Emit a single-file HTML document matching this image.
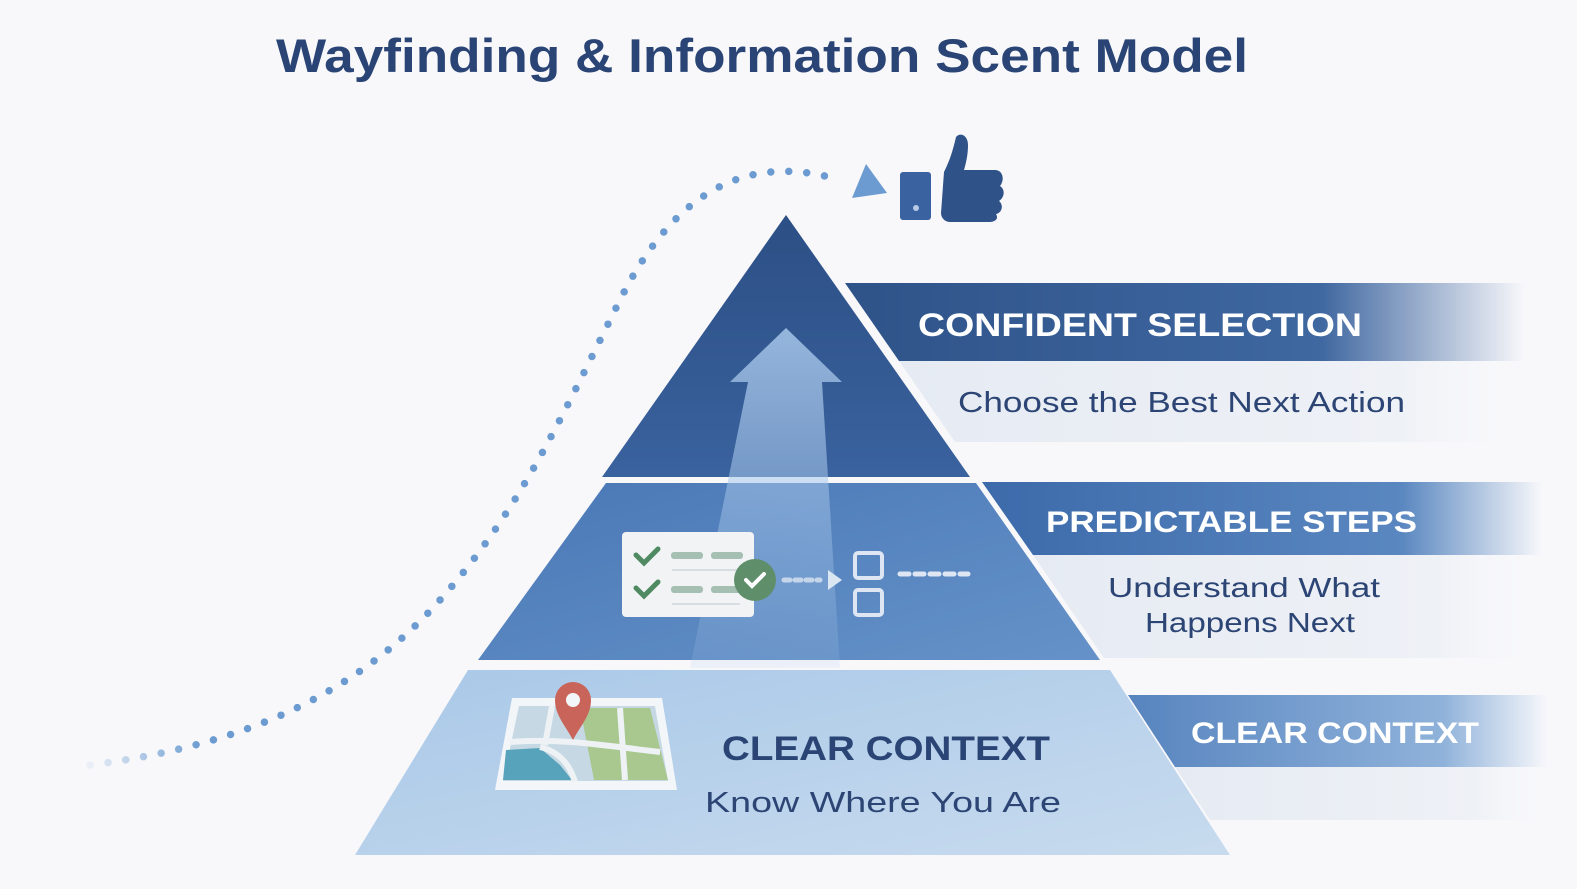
<!DOCTYPE html>
<html><head><meta charset="utf-8"><style>
html,body{margin:0;padding:0;background:#f8f8fb;}
svg{display:block}
</style></head><body>
<svg width="1577" height="889" viewBox="0 0 1577 889" xmlns="http://www.w3.org/2000/svg" font-family="'Liberation Sans', sans-serif">
<defs>
<linearGradient id="b1" x1="0" x2="1"><stop offset="0" stop-color="#2e5389"/><stop offset="0.7" stop-color="#3f67a0"/><stop offset="1" stop-color="#3f67a0" stop-opacity="0"/></linearGradient>
<linearGradient id="b2" x1="0" x2="1"><stop offset="0" stop-color="#3c6aaa"/><stop offset="0.75" stop-color="#5a87c0"/><stop offset="1" stop-color="#5a87c0" stop-opacity="0"/></linearGradient>
<linearGradient id="b3" x1="0" x2="1"><stop offset="0" stop-color="#5784bf"/><stop offset="0.75" stop-color="#8fb2da"/><stop offset="1" stop-color="#8fb2da" stop-opacity="0"/></linearGradient>
<linearGradient id="l1" x1="0" x2="1"><stop offset="0" stop-color="#e6ebf3"/><stop offset="0.8" stop-color="#eef1f6"/><stop offset="1" stop-color="#f8f8fb" stop-opacity="0"/></linearGradient>
<linearGradient id="t1" x1="0" y1="0" x2="0" y2="1"><stop offset="0" stop-color="#2c4f85"/><stop offset="1" stop-color="#3a629e"/></linearGradient>
<linearGradient id="t2" x1="0" y1="0" x2="1" y2="1"><stop offset="0" stop-color="#4a78b6"/><stop offset="1" stop-color="#6592c8"/></linearGradient>
<linearGradient id="t3" x1="0" y1="0" x2="1" y2="1"><stop offset="0" stop-color="#a9c8e8"/><stop offset="1" stop-color="#c8dbee"/></linearGradient>
<linearGradient id="ar" x1="0" y1="0" x2="0" y2="1"><stop offset="0" stop-color="#a7c7ea" stop-opacity="0.85"/><stop offset="1" stop-color="#a7c7ea" stop-opacity="0.15"/></linearGradient>
<linearGradient id="dotf" x1="0" x2="1"><stop offset="0" stop-color="#6b9bd0" stop-opacity="0.1"/><stop offset="0.15" stop-color="#6b9bd0"/><stop offset="1" stop-color="#6b9bd0"/></linearGradient>
</defs>

<text x="762" y="72" text-anchor="middle" font-size="47" font-weight="bold" fill="#2a4575" textLength="972" lengthAdjust="spacingAndGlyphs">Wayfinding &amp; Information Scent Model</text>

<!-- right bands (left edge follows pyramid slope +gap) -->
<polygon points="845,283 1525,283 1525,361 899,361" fill="url(#b1)"/>
<polygon points="899,361 1525,361 1525,442 955,442" fill="url(#l1)"/>
<polygon points="982,482 1542,482 1542,555 1033,555" fill="url(#b2)"/>
<polygon points="1033,555 1540,555 1540,658 1104,658" fill="url(#l1)"/>
<polygon points="1128,695 1548,695 1548,767 1175,767" fill="url(#b3)"/>
<polygon points="1175,767 1550,767 1550,820 1210,820" fill="url(#l1)"/>

<!-- pyramid tiers -->
<polygon points="786,215 970,477 602,477" fill="url(#t1)"/>
<polygon points="606,483 976,483 1100,660 478,660" fill="url(#t2)"/>
<polygon points="468,670 1110,670 1230,855 355,855" fill="url(#t3)"/>

<!-- big arrow -->
<path d="M690,668 L748,382 L730,382 L786,328 L842,382 L822,382 L840,668 Z" fill="url(#ar)"/>

<!-- dotted curve -->
<path d="M90,765 C250,745 360,690 440,600 C520,510 560,420 620,300 C670,200 740,150 840,180" fill="none" stroke="url(#dotf)" stroke-width="7.5" stroke-linecap="round" stroke-dasharray="0 18"/>
<polygon points="852,198 866,164 887,193" fill="#6b9bd0"/>

<!-- thumbs up -->
<rect x="900" y="172" width="31" height="48" rx="3" fill="#3b62a0"/>
<circle cx="916" cy="208" r="3" fill="#b8cbe6"/>
<path d="M944,172 C950,160 953,150 956,137 C960,132 968,135 968,145 C968,155 966,163 964,170 L995,170 C1003,170 1005,180 1000,186 C1006,190 1004,198 999,201 C1004,205 1002,213 996,214 C999,219 995,222 989,222 L950,222 C945,222 941,218 941,213 Z" fill="#2f5289"/>

<!-- text -->
<text x="918" y="336" font-size="32" font-weight="bold" fill="#ffffff" textLength="444" lengthAdjust="spacingAndGlyphs">CONFIDENT SELECTION</text>
<text x="958" y="412" font-size="29" fill="#2c4575" textLength="447" lengthAdjust="spacingAndGlyphs">Choose the Best Next Action</text>
<text x="1046" y="532" font-size="30" font-weight="bold" fill="#ffffff" textLength="371" lengthAdjust="spacingAndGlyphs">PREDICTABLE STEPS</text>
<text x="1108" y="597" font-size="28" fill="#2c4575" textLength="272" lengthAdjust="spacingAndGlyphs">Understand What</text>
<text x="1145" y="632" font-size="28" fill="#2c4575" textLength="210" lengthAdjust="spacingAndGlyphs">Happens Next</text>
<text x="1191" y="743" font-size="30" font-weight="bold" fill="#ffffff" textLength="288" lengthAdjust="spacingAndGlyphs">CLEAR CONTEXT</text>
<text x="722" y="760" font-size="34" font-weight="bold" fill="#2a4575" textLength="328" lengthAdjust="spacingAndGlyphs">CLEAR CONTEXT</text>
<text x="705" y="812" font-size="29" fill="#2c4575" textLength="356" lengthAdjust="spacingAndGlyphs">Know Where You Are</text>

<!-- checklist -->
<rect x="622" y="532" width="132" height="85" rx="4" fill="#f1f3f5"/>
<path d="M636,555 l8,8 l14,-14" fill="none" stroke="#4f8a62" stroke-width="5" stroke-linecap="round"/>
<path d="M636,588 l8,8 l14,-14" fill="none" stroke="#4f8a62" stroke-width="5" stroke-linecap="round"/>
<rect x="671" y="552" width="32" height="7" rx="3" fill="#a6bfb3"/>
<rect x="711" y="552" width="32" height="7" rx="3" fill="#a6bfb3"/>
<rect x="671" y="586" width="32" height="7" rx="3" fill="#a6bfb3"/>
<rect x="711" y="586" width="30" height="7" rx="3" fill="#a6bfb3"/>
<line x1="672" y1="570" x2="740" y2="570" stroke="#d0d6dd" stroke-width="1.5"/>
<line x1="672" y1="604" x2="740" y2="604" stroke="#d0d6dd" stroke-width="1.5"/>
<circle cx="755" cy="580" r="21" fill="#5f8f6a"/>
<path d="M746,580 l6,6 l12,-12" fill="none" stroke="#fff" stroke-width="4" stroke-linecap="round"/>
<path d="M784,580 h36" stroke="#c5d5ea" stroke-width="5" stroke-dasharray="6 5" stroke-linecap="round"/>
<polygon points="828,570 842,580 828,590" fill="#dbe6f3"/>
<rect x="855" y="553" width="27" height="25" rx="3" fill="none" stroke="#dde6f2" stroke-width="4"/>
<rect x="855" y="590" width="27" height="25" rx="3" fill="none" stroke="#dde6f2" stroke-width="4"/>
<path d="M900,574 h68" stroke="#dde6f2" stroke-width="5" stroke-dasharray="9 6" stroke-linecap="round"/>

<!-- map -->
<polygon points="512,698 662,698 677,790 495,790" fill="#f3f6f9"/>
<polygon points="519,706 655,706 668,781 503,781" fill="#c5d8e4"/>
<polygon points="580,708 650,708 668,780 594,780" fill="#a9c890"/>
<polygon points="506,750 540,748 560,765 572,780 503,780" fill="#57a3bb"/>
<path d="M510,742 C560,738 600,745 660,752 M540,747 C560,752 570,765 575,782 M552,706 L545,745 M620,708 L625,780" fill="none" stroke="#eef2f5" stroke-width="6"/>
<path d="M573,740 C565,725 555,715 555,700 A18,18 0 0 1 591,700 C591,715 581,725 573,740 Z" fill="#c9645a"/>
<circle cx="573" cy="700" r="7" fill="#f3f6f9"/>
</svg>
</body></html>
